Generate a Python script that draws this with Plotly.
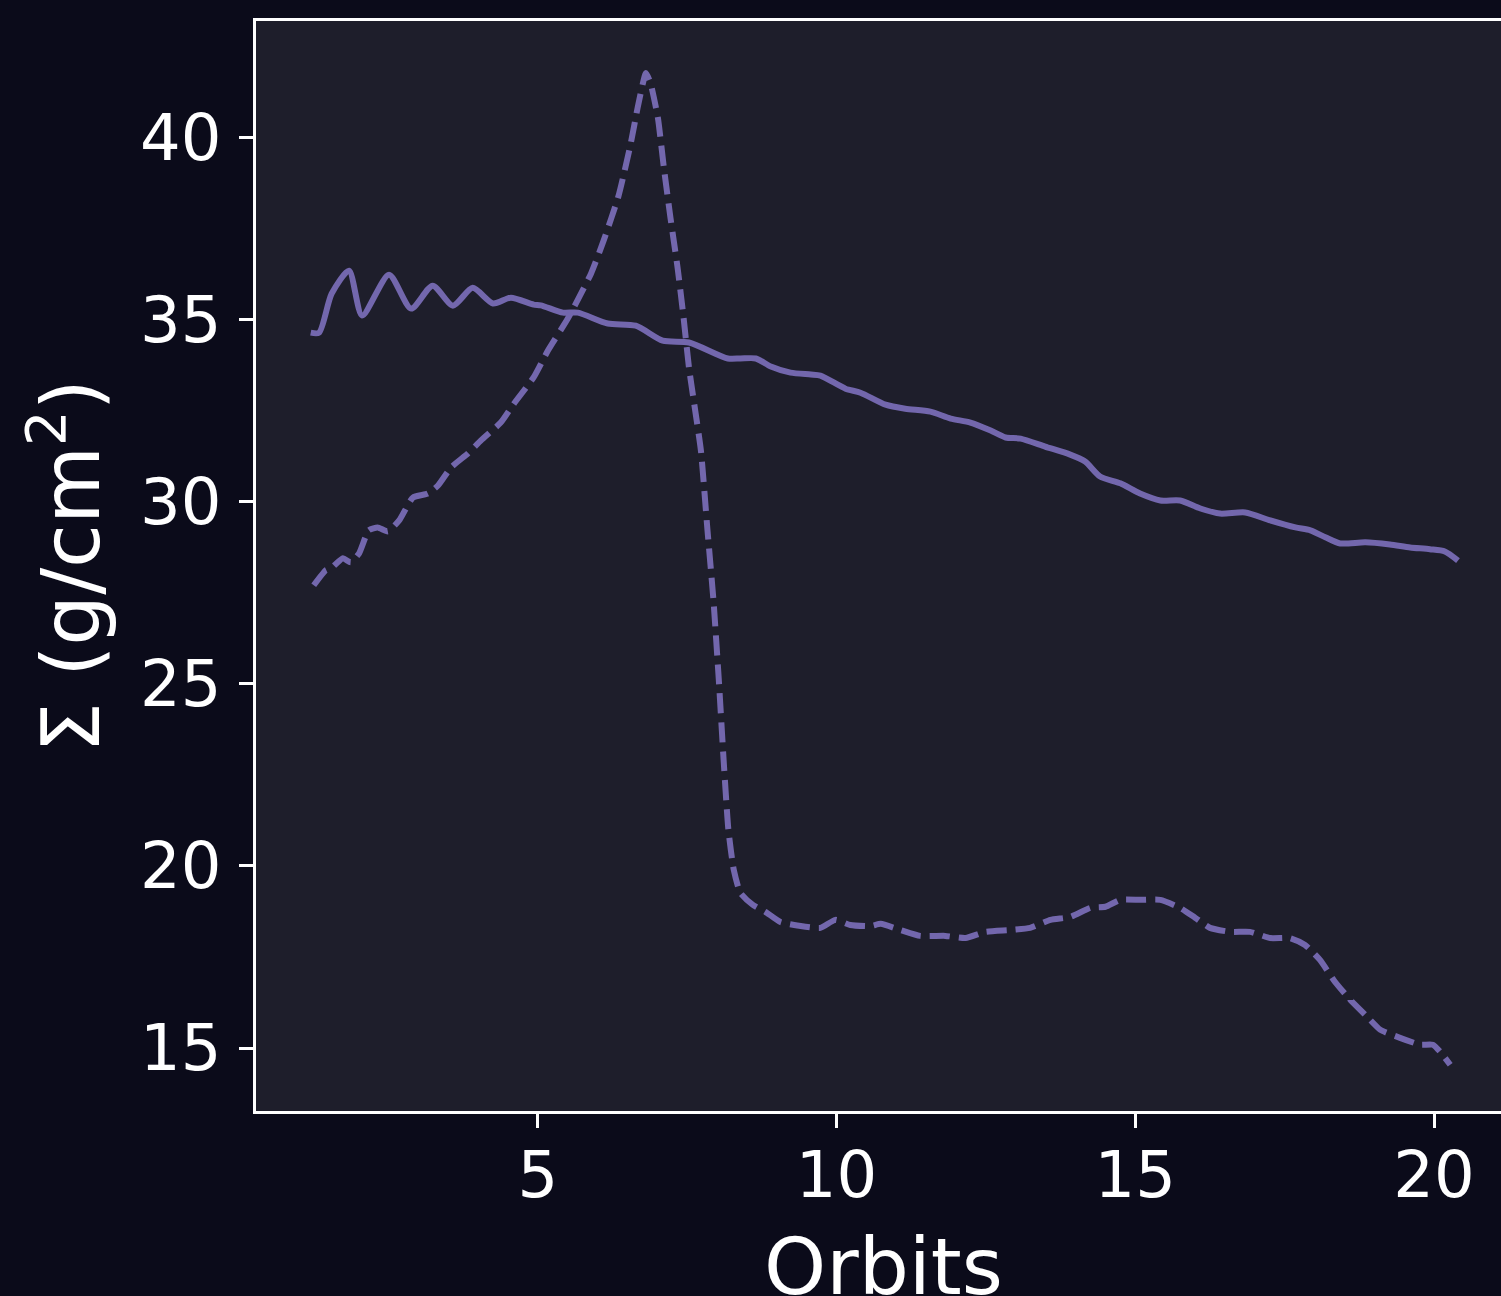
import plotly.graph_objects as go

# Solid line (reference profile)
solid_x = [1.20, 1.34, 1.55, 1.84, 2.06, 2.51, 2.88, 3.24, 3.58, 3.91, 4.25, 4.55, 4.93, 5.05,
           5.42, 5.67, 6.17, 6.64, 7.09, 7.53, 8.18, 8.39, 8.65, 8.90, 9.23, 9.57, 9.73, 10.15,
           10.40, 10.82, 11.15, 11.57, 11.91, 12.24, 12.58, 12.83, 13.08, 13.49, 13.91, 14.16,
           14.41, 14.75, 15.08, 15.42, 15.75, 16.09, 16.42, 16.84, 17.26, 17.68, 17.93, 18.18,
           18.43, 18.85, 19.26, 19.60, 19.93, 20.18, 20.40]
solid_y = [34.65, 34.65, 35.72, 36.35, 35.12, 36.24, 35.31, 35.94, 35.39, 35.88, 35.45, 35.61,
           35.42, 35.40, 35.20, 35.20, 34.90, 34.84, 34.43, 34.38, 33.94, 33.94, 33.94, 33.72,
           33.55, 33.50, 33.47, 33.11, 33.00, 32.67, 32.56, 32.48, 32.29, 32.18, 31.96, 31.77,
           31.74, 31.52, 31.30, 31.11, 30.70, 30.51, 30.23, 30.04, 30.04, 29.82, 29.68, 29.71,
           29.49, 29.30, 29.22, 29.03, 28.86, 28.89, 28.83, 28.75, 28.70, 28.64, 28.39]

# Dashed line
dash_x = [1.25, 1.45, 1.54, 1.74, 1.87, 2.01, 2.17, 2.32, 2.49, 2.68, 2.91, 3.16, 3.33, 3.55,
          3.83, 4.05, 4.38, 4.60, 4.93, 5.17, 5.50, 5.89, 6.10, 6.35, 6.55, 6.68, 6.81, 6.89,
          7.01, 7.11, 7.22, 7.34, 7.44, 7.53, 7.61, 7.73, 7.84, 7.94, 8.03, 8.11, 8.19, 8.28,
          8.39, 8.60, 8.81, 9.06, 9.40, 9.73, 9.98, 10.23, 10.57, 10.74, 11.07, 11.40, 11.82,
          12.16, 12.49, 12.91, 13.24, 13.58, 13.91, 14.25, 14.50, 14.75, 15.08, 15.42, 15.75,
          16.00, 16.25, 16.59, 16.92, 17.26, 17.59, 17.84, 18.09, 18.34, 18.60, 18.85, 19.10,
          19.43, 19.77, 19.98, 20.10, 20.27]
dash_y = [27.71, 28.12, 28.18, 28.45, 28.34, 28.59, 29.22, 29.30, 29.19, 29.49, 30.12, 30.23,
          30.45, 30.95, 31.33, 31.69, 32.18, 32.70, 33.42, 34.16, 35.03, 36.27, 37.17, 38.40,
          39.80, 40.90, 41.78, 41.48, 40.55, 39.18, 37.81, 36.43, 35.06, 33.69, 32.78, 31.41,
          29.22, 27.30, 25.10, 22.91, 20.99, 19.89, 19.26, 18.93, 18.74, 18.46, 18.35, 18.30,
          18.52, 18.38, 18.35, 18.41, 18.24, 18.08, 18.08, 18.02, 18.19, 18.24, 18.30, 18.52,
          18.60, 18.85, 18.88, 19.07, 19.07, 19.07, 18.85, 18.58, 18.30, 18.19, 18.19, 18.02,
          18.02, 17.83, 17.42, 16.82, 16.32, 15.91, 15.50, 15.28, 15.09, 15.09, 14.90, 14.54]

x_ticks = [5, 10, 15, 20]
y_ticks = [15, 20, 25, 30, 35, 40]
x_title = "Orbits"
y_title = "Σ (g/cm<sup>2</sup>)"

LINE = "#7367ad"
FONT = "DejaVu Sans"

fig = go.Figure()
fig.add_trace(go.Scatter(x=solid_x, y=solid_y, mode="lines",
                         line=dict(color=LINE, width=6, shape="spline", smoothing=0.7),
                         showlegend=False))
fig.add_trace(go.Scatter(x=dash_x, y=dash_y, mode="lines",
                         line=dict(color=LINE, width=6, dash="20px,9px", shape="spline", smoothing=0.5),
                         showlegend=False))

fig.update_layout(
    width=1501, height=1296,
    margin=dict(l=256, r=0, t=21, b=185),
    paper_bgcolor="#0b0b1a",
    plot_bgcolor="#1e1e2b",
    font=dict(family=FONT, color="white", size=64),
)
fig.update_xaxes(
    range=[0.284, 21.12], tickvals=x_ticks, ticktext=[str(v) for v in x_ticks],
    showgrid=False, zeroline=False, automargin=False,
    showline=True, linecolor="white", linewidth=2.5, mirror=True,
    ticks="outside", ticklen=14, tickwidth=2.5, tickcolor="white",
    ticklabelstandoff=-8,
    tickfont=dict(size=64, color="white", family=FONT),
)
fig.update_yaxes(
    range=[13.27, 43.21], tickvals=y_ticks, ticktext=[str(v) for v in y_ticks],
    showgrid=False, zeroline=False, automargin=False,
    showline=True, linecolor="white", linewidth=2.5, mirror=False,
    ticks="outside", ticklen=14, tickwidth=2.5, tickcolor="white",
    ticklabelstandoff=5,
    tickfont=dict(size=64, color="white", family=FONT),
    title=dict(text=y_title, font=dict(size=80, color="white", family=FONT), standoff=15),
)
fig.add_annotation(
    text=x_title, xref="paper", yref="paper", x=0.5, y=0,
    xanchor="center", yanchor="top", xshift=5, yshift=-108,
    showarrow=False, font=dict(size=79, color="white", family=FONT),
)

fig.write_html("out.html")
